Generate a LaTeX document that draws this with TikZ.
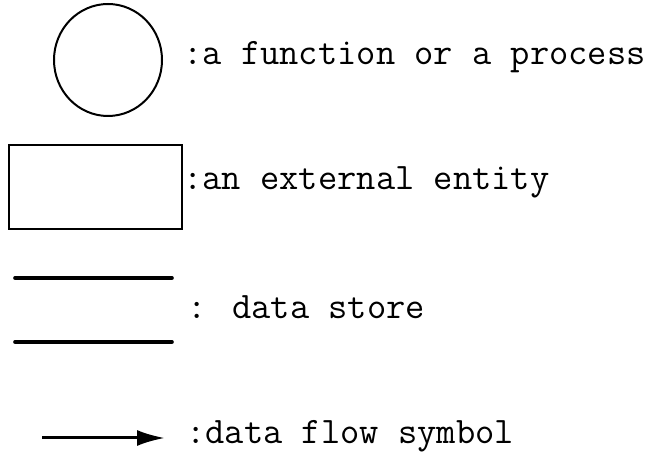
\documentclass[tikz,border=0pt]{standalone}
\usepackage{fontspec}
\usetikzlibrary{shapes.geometric,arrows.meta}

\tikzset{
  legend/.style={anchor=base west, inner sep=0pt, font=\ttfamily\fontsize{18.7}{22}\selectfont},
  store/.style={line width=1.8pt, line cap=round}
}

\begin{document}
\begin{tikzpicture}[x=0.5pt,y=-0.5pt]
        \useasboundingbox (0,0) rectangle (654,454);
        %process
        \node[draw, ellipse, line width=1pt, minimum width=54pt, minimum height=56pt, inner sep=0pt] (proc) at (108,60) {};
        \node[legend] (proclbl) at (183,65) {:a function or a process};
        %external entity
        \node[draw, rectangle, line width=1.2pt, minimum width=86.5pt, minimum height=42pt, inner sep=0pt] (ext) at (95.5,187) {};
        \node[legend] (extlbl) at (183,190) {:an external entity};
        %data store
        \coordinate (storeatl) at (15,278);
        \coordinate (storeatr) at (172,278);
        \coordinate (storebtl) at (15,342);
        \coordinate (storebtr) at (172,342);
        \draw[store] (storeatl) -- (storeatr);
        \draw[store] (storebtl) -- (storebtr);
        \node[legend] (storelbl) at (187,319) {: data store};
        %data flow
        \coordinate (flowa) at (42,438);
        \coordinate (flowb) at (165,438);
        \draw[line width=1.5pt, -{Latex[length=14pt,width=8pt]}] (flowa) -- (flowb);
        \node[legend] (flowlbl) at (186,444) {:data flow symbol};
    \end{tikzpicture}
\end{document}
